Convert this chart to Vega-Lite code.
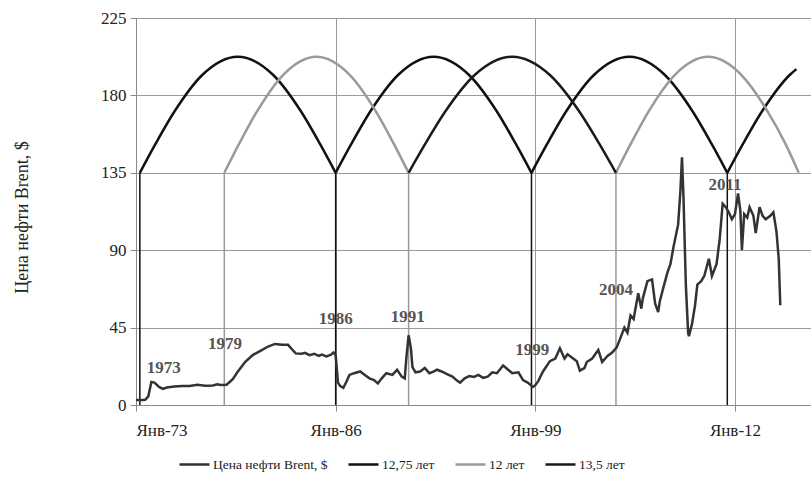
{
  "$schema": "https://vega.github.io/schema/vega-lite/v6.json",
  "width": 675,
  "height": 387,
  "autosize": "none",
  "padding": {"left": 136, "top": 18, "right": 0, "bottom": 74},
  "background": "white",
  "config": {
    "font": "Liberation Serif",
    "view": {"stroke": "#8a8a8a", "strokeWidth": 1},
    "axis": {"labelFont": "Liberation Serif", "titleFont": "Liberation Serif", "labelColor": "#222", "titleColor": "#222"},
    "legend": {"title": null, "orient": "none", "direction": "horizontal", "legendX": 42, "legendY": 430,
      "symbolType": "stroke", "symbolSize": 900, "symbolStrokeWidth": 2.5, "labelFont": "Liberation Serif",
      "labelFontSize": 13.5, "labelColor": "#222", "labelOffset": 2, "columnPadding": 15}
  },
  "datasets": {
    "brent": [
      {"t": 1973.0, "v": 2.9}, {"t": 1973.4, "v": 2.9}, {"t": 1973.6, "v": 3.0}, {"t": 1973.8, "v": 5.0},
      {"t": 1974.0, "v": 13.4}, {"t": 1974.2, "v": 13.0}, {"t": 1974.5, "v": 10.5}, {"t": 1974.75, "v": 9.4},
      {"t": 1975.0, "v": 10.2}, {"t": 1975.5, "v": 10.8}, {"t": 1976.0, "v": 11.0}, {"t": 1976.5, "v": 11.0},
      {"t": 1977.0, "v": 11.8}, {"t": 1977.5, "v": 11.2}, {"t": 1978.0, "v": 11.3}, {"t": 1978.3, "v": 12.0},
      {"t": 1978.5, "v": 11.7}, {"t": 1978.9, "v": 11.8}, {"t": 1979.3, "v": 15}, {"t": 1979.6, "v": 19},
      {"t": 1980.1, "v": 25}, {"t": 1980.6, "v": 29}, {"t": 1981.1, "v": 31.5}, {"t": 1981.6, "v": 34},
      {"t": 1982.05, "v": 35.5}, {"t": 1982.5, "v": 35}, {"t": 1982.9, "v": 35}, {"t": 1983.2, "v": 32},
      {"t": 1983.4, "v": 30}, {"t": 1983.8, "v": 29.8}, {"t": 1984.0, "v": 30.3}, {"t": 1984.3, "v": 29.0},
      {"t": 1984.6, "v": 29.8}, {"t": 1984.9, "v": 28.5}, {"t": 1985.1, "v": 29.3}, {"t": 1985.4, "v": 28.3},
      {"t": 1985.7, "v": 29.3}, {"t": 1985.85, "v": 30.5}, {"t": 1986.0, "v": 29}, {"t": 1986.15, "v": 13},
      {"t": 1986.3, "v": 11}, {"t": 1986.5, "v": 10}, {"t": 1986.7, "v": 13.5}, {"t": 1986.9, "v": 17.5},
      {"t": 1987.2, "v": 18.5}, {"t": 1987.6, "v": 19.5}, {"t": 1987.9, "v": 17.5}, {"t": 1988.2, "v": 15.5},
      {"t": 1988.5, "v": 14.5}, {"t": 1988.75, "v": 12.5}, {"t": 1989.0, "v": 15.5}, {"t": 1989.3, "v": 18.5},
      {"t": 1989.7, "v": 17.5}, {"t": 1990.0, "v": 20.5}, {"t": 1990.3, "v": 16.5}, {"t": 1990.5, "v": 15.5},
      {"t": 1990.6, "v": 27}, {"t": 1990.75, "v": 40.5}, {"t": 1990.9, "v": 33}, {"t": 1991.0, "v": 22},
      {"t": 1991.2, "v": 19}, {"t": 1991.5, "v": 19.5}, {"t": 1991.8, "v": 21.5}, {"t": 1992.1, "v": 18.5},
      {"t": 1992.4, "v": 19.5}, {"t": 1992.6, "v": 20.5}, {"t": 1992.9, "v": 19.5}, {"t": 1993.25, "v": 18},
      {"t": 1993.6, "v": 16.5}, {"t": 1993.9, "v": 14.2}, {"t": 1994.1, "v": 13}, {"t": 1994.4, "v": 15.5},
      {"t": 1994.7, "v": 16.8}, {"t": 1995.0, "v": 16.3}, {"t": 1995.3, "v": 17.5}, {"t": 1995.6, "v": 15.8},
      {"t": 1995.9, "v": 16.5}, {"t": 1996.2, "v": 19}, {"t": 1996.5, "v": 18.5}, {"t": 1996.9, "v": 23},
      {"t": 1997.1, "v": 21.5}, {"t": 1997.5, "v": 18.5}, {"t": 1997.9, "v": 19}, {"t": 1998.2, "v": 14.5},
      {"t": 1998.5, "v": 13}, {"t": 1998.85, "v": 10.5}, {"t": 1999.0, "v": 11.5}, {"t": 1999.2, "v": 14},
      {"t": 1999.5, "v": 19.5}, {"t": 1999.95, "v": 25.5}, {"t": 2000.3, "v": 27}, {"t": 2000.6, "v": 33},
      {"t": 2000.9, "v": 27}, {"t": 2001.1, "v": 29.5}, {"t": 2001.4, "v": 27.5}, {"t": 2001.7, "v": 25.5},
      {"t": 2001.9, "v": 20}, {"t": 2002.2, "v": 21.5}, {"t": 2002.35, "v": 25}, {"t": 2002.7, "v": 27},
      {"t": 2003.1, "v": 32}, {"t": 2003.35, "v": 25}, {"t": 2003.7, "v": 28.5}, {"t": 2004.0, "v": 30.5},
      {"t": 2004.3, "v": 33.5}, {"t": 2004.5, "v": 38}, {"t": 2004.8, "v": 45}, {"t": 2005.0, "v": 42},
      {"t": 2005.2, "v": 52}, {"t": 2005.4, "v": 50}, {"t": 2005.7, "v": 65}, {"t": 2005.9, "v": 56},
      {"t": 2006.0, "v": 62}, {"t": 2006.3, "v": 72}, {"t": 2006.6, "v": 73}, {"t": 2006.8, "v": 59},
      {"t": 2007.0, "v": 54}, {"t": 2007.1, "v": 60}, {"t": 2007.3, "v": 67}, {"t": 2007.6, "v": 77},
      {"t": 2007.8, "v": 82}, {"t": 2008.0, "v": 92}, {"t": 2008.3, "v": 105}, {"t": 2008.45, "v": 125},
      {"t": 2008.55, "v": 144}, {"t": 2008.65, "v": 120}, {"t": 2008.8, "v": 70}, {"t": 2008.95, "v": 42},
      {"t": 2009.0, "v": 40}, {"t": 2009.2, "v": 47}, {"t": 2009.4, "v": 58}, {"t": 2009.55, "v": 70},
      {"t": 2009.8, "v": 72}, {"t": 2010.0, "v": 75}, {"t": 2010.3, "v": 85}, {"t": 2010.5, "v": 75},
      {"t": 2010.8, "v": 82}, {"t": 2011.0, "v": 96}, {"t": 2011.2, "v": 117}, {"t": 2011.4, "v": 115},
      {"t": 2011.6, "v": 112}, {"t": 2011.8, "v": 108}, {"t": 2012.0, "v": 111}, {"t": 2012.2, "v": 123},
      {"t": 2012.35, "v": 113}, {"t": 2012.45, "v": 90}, {"t": 2012.6, "v": 111}, {"t": 2012.8, "v": 109},
      {"t": 2012.95, "v": 115}, {"t": 2013.2, "v": 110}, {"t": 2013.35, "v": 100}, {"t": 2013.6, "v": 115},
      {"t": 2013.8, "v": 110}, {"t": 2014.0, "v": 108}, {"t": 2014.3, "v": 110}, {"t": 2014.5, "v": 112},
      {"t": 2014.7, "v": 101}, {"t": 2014.85, "v": 85}, {"t": 2014.95, "v": 58}
    ],
    "arcs": [
      {"series": "12,75 лет", "arc": "A", "t": 1973.25, "v": 135}, {"series": "12,75 лет", "arc": "A", "t": 1974.27, "v": 151.8},
      {"series": "12,75 лет", "arc": "A", "t": 1975.545, "v": 171.2}, {"series": "12,75 лет", "arc": "A", "t": 1977.33, "v": 192.0},
      {"series": "12,75 лет", "arc": "A", "t": 1979.625, "v": 202.5}, {"series": "12,75 лет", "arc": "A", "t": 1981.92, "v": 192.0},
      {"series": "12,75 лет", "arc": "A", "t": 1983.705, "v": 171.2}, {"series": "12,75 лет", "arc": "A", "t": 1984.98, "v": 151.8},
      {"series": "12,75 лет", "arc": "A", "t": 1986.0, "v": 135},
      {"series": "12,75 лет", "arc": "C", "t": 1986.0, "v": 135}, {"series": "12,75 лет", "arc": "C", "t": 1987.02, "v": 151.8},
      {"series": "12,75 лет", "arc": "C", "t": 1988.295, "v": 171.2}, {"series": "12,75 лет", "arc": "C", "t": 1990.08, "v": 192.0},
      {"series": "12,75 лет", "arc": "C", "t": 1992.375, "v": 202.5}, {"series": "12,75 лет", "arc": "C", "t": 1994.67, "v": 192.0},
      {"series": "12,75 лет", "arc": "C", "t": 1996.455, "v": 171.2}, {"series": "12,75 лет", "arc": "C", "t": 1997.73, "v": 151.8},
      {"series": "12,75 лет", "arc": "C", "t": 1998.75, "v": 135},
      {"series": "12,75 лет", "arc": "E", "t": 1998.75, "v": 135}, {"series": "12,75 лет", "arc": "E", "t": 1999.77, "v": 151.8},
      {"series": "12,75 лет", "arc": "E", "t": 2001.045, "v": 171.2}, {"series": "12,75 лет", "arc": "E", "t": 2002.83, "v": 192.0},
      {"series": "12,75 лет", "arc": "E", "t": 2005.125, "v": 202.5}, {"series": "12,75 лет", "arc": "E", "t": 2007.42, "v": 192.0},
      {"series": "12,75 лет", "arc": "E", "t": 2009.205, "v": 171.2}, {"series": "12,75 лет", "arc": "E", "t": 2010.48, "v": 151.8},
      {"series": "12,75 лет", "arc": "E", "t": 2011.5, "v": 135},
      {"series": "12,75 лет", "arc": "G", "t": 2011.5, "v": 135}, {"series": "12,75 лет", "arc": "G", "t": 2012.52, "v": 151.8},
      {"series": "12,75 лет", "arc": "G", "t": 2013.795, "v": 171.2}, {"series": "12,75 лет", "arc": "G", "t": 2015.58, "v": 192.0},
      {"series": "12,75 лет", "arc": "G", "t": 2016.0, "v": 195.3},
      {"series": "12 лет", "arc": "B", "t": 1978.75, "v": 135}, {"series": "12 лет", "arc": "B", "t": 1979.71, "v": 151.8},
      {"series": "12 лет", "arc": "B", "t": 1980.91, "v": 171.2}, {"series": "12 лет", "arc": "B", "t": 1982.59, "v": 192.0},
      {"series": "12 лет", "arc": "B", "t": 1984.75, "v": 202.5}, {"series": "12 лет", "arc": "B", "t": 1986.91, "v": 192.0},
      {"series": "12 лет", "arc": "B", "t": 1988.59, "v": 171.2}, {"series": "12 лет", "arc": "B", "t": 1989.79, "v": 151.8},
      {"series": "12 лет", "arc": "B", "t": 1990.75, "v": 135},
      {"series": "12 лет", "arc": "F", "t": 2004.25, "v": 135}, {"series": "12 лет", "arc": "F", "t": 2005.21, "v": 151.8},
      {"series": "12 лет", "arc": "F", "t": 2006.41, "v": 171.2}, {"series": "12 лет", "arc": "F", "t": 2008.09, "v": 192.0},
      {"series": "12 лет", "arc": "F", "t": 2010.25, "v": 202.5}, {"series": "12 лет", "arc": "F", "t": 2012.41, "v": 192.0},
      {"series": "12 лет", "arc": "F", "t": 2014.09, "v": 171.2}, {"series": "12 лет", "arc": "F", "t": 2015.29, "v": 151.8},
      {"series": "12 лет", "arc": "F", "t": 2016.15, "v": 135},
      {"series": "13,5 лет", "arc": "D", "t": 1990.75, "v": 135}, {"series": "13,5 лет", "arc": "D", "t": 1991.83, "v": 151.8},
      {"series": "13,5 лет", "arc": "D", "t": 1993.18, "v": 171.2}, {"series": "13,5 лет", "arc": "D", "t": 1995.07, "v": 192.0},
      {"series": "13,5 лет", "arc": "D", "t": 1997.5, "v": 202.5}, {"series": "13,5 лет", "arc": "D", "t": 1999.93, "v": 192.0},
      {"series": "13,5 лет", "arc": "D", "t": 2001.82, "v": 171.2}, {"series": "13,5 лет", "arc": "D", "t": 2003.17, "v": 151.8},
      {"series": "13,5 лет", "arc": "D", "t": 2004.25, "v": 135}
    ],
    "drops": [
      {"series": "12,75 лет", "t": 1973.25}, {"series": "12 лет", "t": 1978.75}, {"series": "12,75 лет", "t": 1986.0},
      {"series": "12 лет", "t": 1990.75}, {"series": "12,75 лет", "t": 1998.75}, {"series": "12 лет", "t": 2004.25},
      {"series": "12,75 лет", "t": 2011.5}
    ],
    "labels": [
      {"label": "1973", "t": 1974.8, "v": 21.5}, {"label": "1979", "t": 1978.8, "v": 35.5},
      {"label": "1986", "t": 1986.0, "v": 50}, {"label": "1991", "t": 1990.7, "v": 51.2},
      {"label": "1999", "t": 1998.8, "v": 31.7}, {"label": "2004", "t": 2004.25, "v": 66.7},
      {"label": "2011", "t": 2011.35, "v": 127.8}
    ]
  },
  "layer": [
    {
      "data": {"name": "drops"},
      "mark": {"type": "rule", "strokeWidth": 1.5},
      "encoding": {
        "x": {"field": "t", "type": "quantitative", "scale": {"domain": [1973, 2016.95], "nice": false, "zero": false},
          "axis": {"values": [1973, 1986, 1999, 2012], "labelExpr": "'Янв-' + substring(toString(datum.value), 2)",
            "title": null, "grid": true, "gridColor": "#9a9a9a", "gridWidth": 1, "domainColor": "#8a8a8a",
            "tickColor": "#8a8a8a", "tickSize": 6, "labelFontSize": 17, "labelPadding": 11, "labelFlush": true}},
        "y": {"datum": 0, "type": "quantitative"},
        "y2": {"datum": 135},
        "color": {"field": "series", "type": "nominal"}
      }
    },
    {
      "data": {"name": "arcs"},
      "mark": {"type": "line", "strokeWidth": 2.5, "interpolate": "monotone"},
      "encoding": {
        "x": {"field": "t", "type": "quantitative"},
        "y": {"field": "v", "type": "quantitative"},
        "detail": {"field": "arc"},
        "color": {"field": "series", "type": "nominal"}
      }
    },
    {
      "data": {"name": "brent"},
      "mark": {"type": "line", "strokeWidth": 2.5},
      "encoding": {
        "x": {"field": "t", "type": "quantitative"},
        "y": {"field": "v", "type": "quantitative",
          "scale": {"domain": [0, 225], "nice": false},
          "axis": {"values": [0, 45, 90, 135, 180, 225], "title": "Цена нефти Brent, $", "titleFontSize": 18,
            "titleFontWeight": "normal", "titleX": -114, "titleY": 199, "titleBaseline": "middle", "titleAngle": -90,
            "grid": true, "gridColor": "#9a9a9a", "gridWidth": 1, "domainColor": "#8a8a8a", "tickColor": "#8a8a8a",
            "tickSize": 6, "labelFontSize": 17, "labelPadding": 4}},
        "color": {"datum": "Цена нефти Brent, $", "type": "nominal",
          "scale": {"domain": ["Цена нефти Brent, $", "12,75 лет", "12 лет", "13,5 лет"],
            "range": ["#333333", "#111111", "#9a9a9a", "#1a1a1a"]}}
      }
    },
    {
      "data": {"name": "labels"},
      "mark": {"type": "text", "font": "Liberation Serif", "fontSize": 17, "fontWeight": "bold", "color": "#555555"},
      "encoding": {
        "x": {"field": "t", "type": "quantitative"},
        "y": {"field": "v", "type": "quantitative"},
        "text": {"field": "label"}
      }
    }
  ]
}
